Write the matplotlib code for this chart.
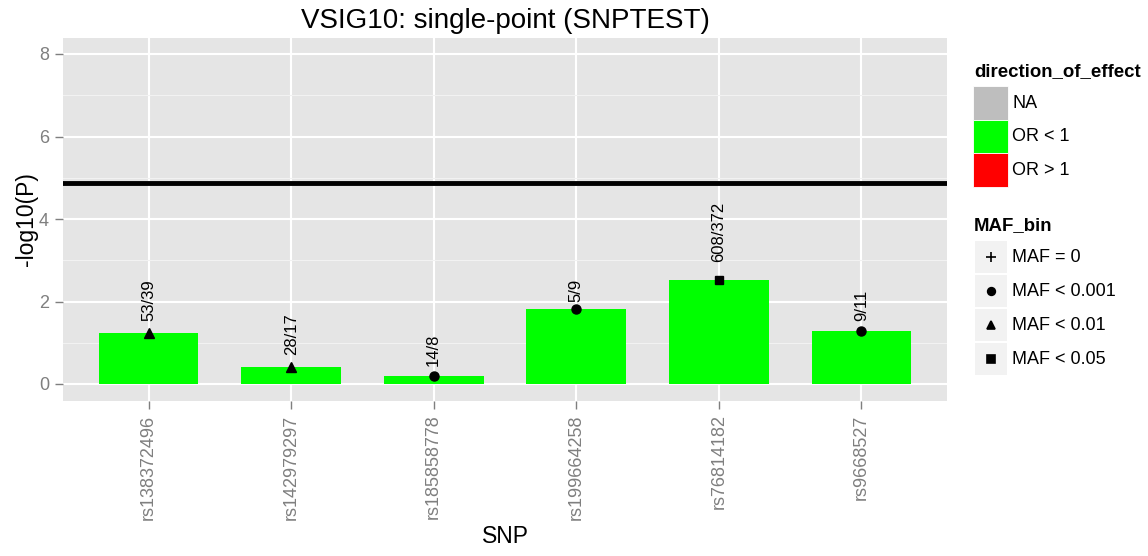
import matplotlib
matplotlib.use("Agg")
import matplotlib.pyplot as plt
from matplotlib.patches import Rectangle

plt.rcParams['font.family'] = ['Liberation Sans', 'DejaVu Sans']

snps = ['rs138372496', 'rs142979297', 'rs185858778', 'rs199664258', 'rs76814182', 'rs9668527']
neglogp = [1.23, 0.41, 0.19, 1.83, 2.52, 1.29]
counts = ['53/39', '28/17', '14/8', '5/9', '608/372', '9/11']
maf_bin = ['MAF < 0.01', 'MAF < 0.01', 'MAF < 0.001', 'MAF < 0.001', 'MAF < 0.05', 'MAF < 0.001']
threshold = 4.87

effect_levels = ['NA', 'OR < 1', 'OR > 1']
effect_colors = ['#BEBEBE', '#00FF00', '#FF0000']
maf_levels = ['MAF = 0', 'MAF < 0.001', 'MAF < 0.01', 'MAF < 0.05']
maf_markers = {'MAF = 0': '+', 'MAF < 0.001': 'o', 'MAF < 0.01': '^', 'MAF < 0.05': 's'}
maf_sizes = {'MAF = 0': 9, 'MAF < 0.001': 6.5, 'MAF < 0.01': 7.5, 'MAF < 0.05': 6}

grey50 = '#7F7F7F'

fig = plt.figure(figsize=(11.48, 5.56), dpi=100)
ax = fig.add_axes([63 / 1148, 1 - 400.5 / 556, 884 / 1148, 363 / 556])
ax.set_facecolor('#E5E5E5')
for s in ax.spines.values():
    s.set_visible(False)

x = list(range(1, len(snps) + 1))
ax.set_xlim(0.4, len(snps) + 0.6)
ax.set_ylim(-0.4, 8.4)
ax.set_yticks([0, 2, 4, 6, 8])
ax.set_yticks([1, 3, 5, 7], minor=True)
ax.set_xticks(x)
ax.set_xticklabels(snps, rotation=90)
ax.grid(which='major', color='white', lw=1.5)
ax.grid(which='minor', axis='y', color='#F2F2F2', lw=0.8)
ax.set_axisbelow(True)
ax.tick_params(axis='both', which='major', colors=grey50, labelsize=13, length=6, width=1, pad=4)
ax.tick_params(axis='y', which='minor', length=0)

ax.bar(x, neglogp, width=0.7, color=effect_colors[1], zorder=2)
ax.axhline(threshold, color='black', lw=3.5, zorder=3)

for xi, v, m in zip(x, neglogp, maf_bin):
    ax.plot(xi, v, marker=maf_markers[m], ms=maf_sizes[m], color='black', mec='black', zorder=4)

# count labels sit above the points, offset in proportion to their length
for xi, v, lab in zip(x, neglogp, counts):
    width_pt = 12 * (0.556 * (len(lab) - 1) + 0.278)
    ax.annotate(lab, (xi, v), xytext=(0, 0.3 * width_pt), textcoords='offset points',
                rotation=90, rotation_mode='anchor', ha='left', va='center',
                fontsize=12, color='black', zorder=5)

ax.set_xlabel('SNP', fontsize=16.5, labelpad=4)
ax.set_ylabel('-log10(P)', fontsize=16.5, labelpad=1)
ax.set_title('VSIG10: single-point (SNPTEST)', fontsize=20, pad=7)

# legends drawn in pixel coordinates
leg = fig.add_axes([0, 0, 1, 1])
leg.set_xlim(0, 1148)
leg.set_ylim(556, 0)
leg.axis('off')

leg.text(974, 72, 'direction_of_effect', fontsize=13.4, fontweight='bold', va='center', ha='left')
for i, (lab, col) in enumerate(zip(effect_levels, effect_colors)):
    y0 = 86 + i * 33.7
    leg.add_patch(Rectangle((973, y0), 35, 33.7, facecolor=col, edgecolor='white', lw=0.6))
    leg.text(1012, y0 + 17, lab, fontsize=13, va='center', ha='left')

leg.text(974, 226, 'MAF_bin', fontsize=13.4, fontweight='bold', va='center', ha='left')
for i, lab in enumerate(maf_levels):
    y0 = 241 + i * 34
    leg.add_patch(Rectangle((975, y0), 32, 32, facecolor='#F2F2F2', edgecolor='none'))
    leg.plot(991, y0 + 16, marker=maf_markers[lab], ms=maf_sizes[lab] * 0.85,
             color='black', mew=1.2)
    leg.text(1012, y0 + 17, lab, fontsize=13, va='center', ha='left')

fig.savefig('out.png', dpi=100)
